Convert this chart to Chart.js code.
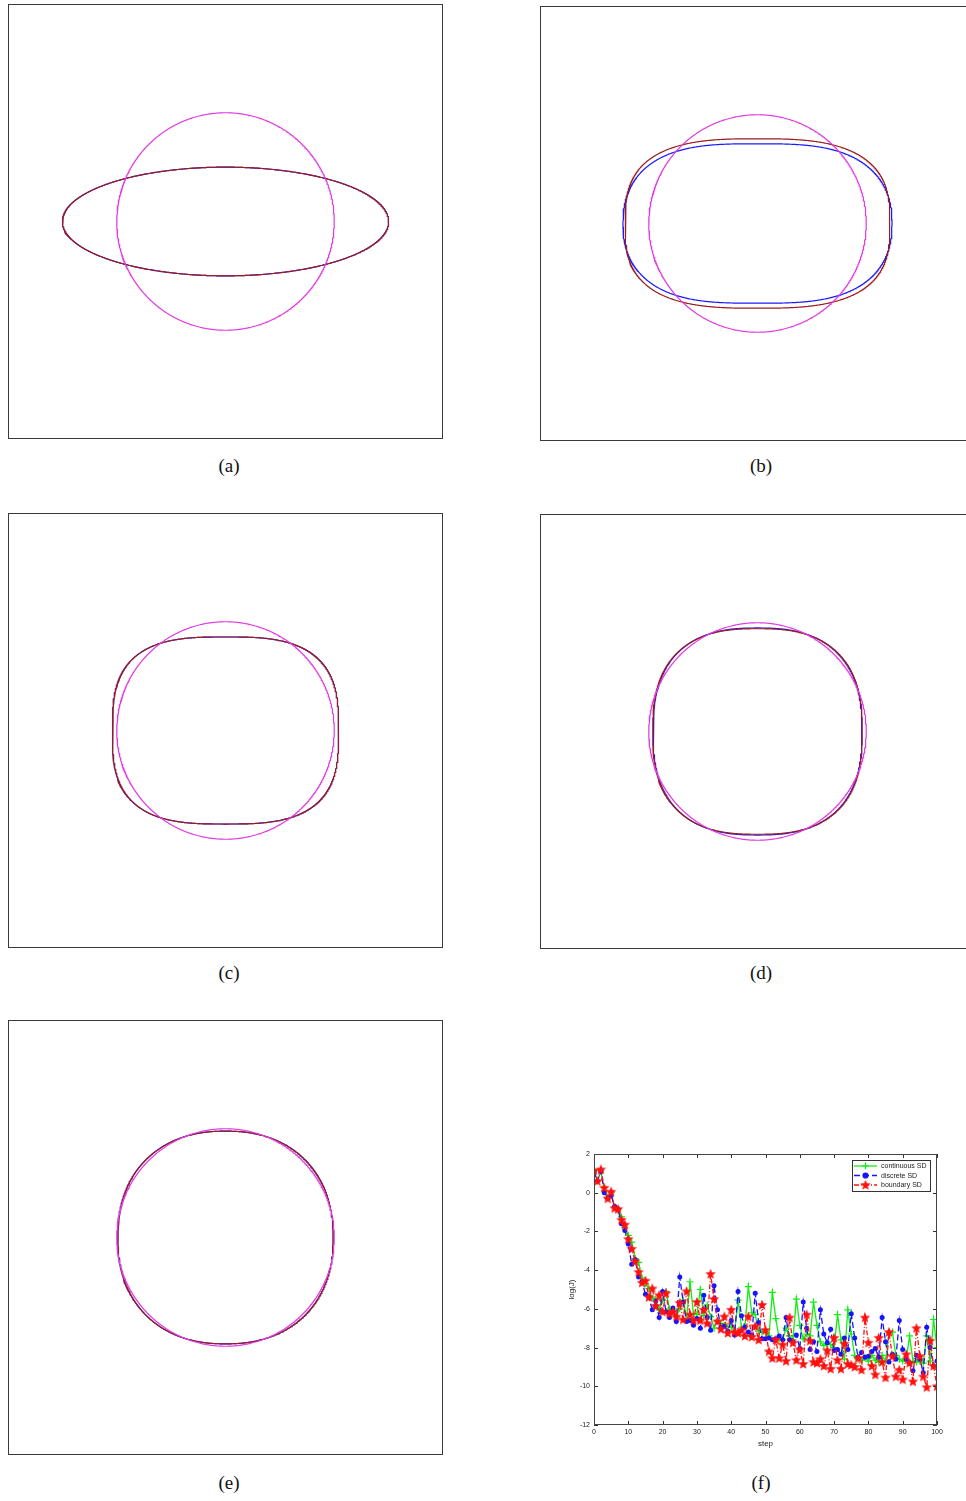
<!DOCTYPE html>
<html>
<head>
<meta charset="utf-8">
<script src="https://cdn.jsdelivr.net/npm/chart.js@4.4.0/dist/chart.umd.min.js"></script>
<style>
html, body { margin: 0; padding: 0; background: #fff; width: 966px; height: 1501px; overflow: hidden; }
canvas { position: absolute; }
.cap { position: absolute; font-family: "Liberation Serif", "DejaVu Serif", serif; font-size: 19px; color: #111; transform: translate(-50%, -50%); white-space: nowrap; }
</style>
</head>
<body>
<script>
// shape panels (a)-(e): circle target and two computed contours, in plot units
const panelNames = ['(a)', '(b)', '(c)', '(d)', '(e)'];
const circleR = [1, 1, 1, 1, 1];
const brownA = [1.5, 1.217, 1.04, 0.963, 0.99];
const brownB = [0.5, 0.779, 0.86, 0.945, 0.978];
const brownP = [2, 2.9, 3.0, 2.6, 2.25];
const brownQ = [2, 2.9, 3.0, 2.6, 2.25];
const blueA = [1.5, 1.237, 1.04, 0.96, 0.99];
const blueB = [0.5, 0.733, 0.86, 0.952, 0.978];
const blueP = [2, 3.1, 3.0, 2.55, 2.25];
const blueQ = [2, 2.3, 3.0, 2.55, 2.25];

// panel (f): log(J) against step
const steps = [];
for (let i = 0; i <= 100; i++) steps.push(i);
const continuousSD = [1.1, 0.6, 1.15, 0.1, -0.25, 0.0, -0.75, -0.9, -1.25, -1.8,
  -2.2, -2.55, -3.4, -3.6, -4.4, -4.7, -4.95, -5.45, -5.5, -6.05,
  -5.55, -5.1, -6.0, -6.05, -6.4, -6.0, -5.55, -6.5, -4.6, -6.25,
  -6.3, -5.0, -6.35, -5.8, -6.4, -7.0, -6.6, -6.75, -6.85, -6.9,
  -6.95, -7.2, -5.55, -6.95, -6.9, -4.85, -6.2, -6.3, -7.15, -7.2,
  -7.2, -7.4, -5.15, -6.5, -7.55, -7.6, -7.0, -7.4, -7.6, -5.5,
  -6.85, -7.55, -7.3, -7.4, -5.65, -6.85, -7.7, -7.9, -7.8, -7.85,
  -8.0, -6.3, -7.6, -8.6, -6.05, -7.3, -8.4, -8.6, -8.65, -8.5,
  -8.7, -8.4, -8.65, -8.75, -8.4, -8.7, -7.25, -7.2, -8.4, -8.6,
  -8.7, -8.65, -7.4, -8.7, -8.75, -8.7, -8.8, -7.4, -8.7, -6.55, -8.0];
const discreteSD = [1.1, 0.6, 1.1, 0.0, -0.3, -0.15, -0.7, -0.85, -1.6, -1.95,
  -2.65, -3.7, -3.45, -4.35, -4.6, -5.25, -5.4, -6.05, -5.6, -6.45,
  -5.1, -6.15, -6.45, -5.95, -6.65, -4.35, -5.65, -6.65, -6.6, -6.85,
  -6.5, -7.0, -5.3, -6.45, -7.1, -4.8, -6.05, -6.95, -6.9, -7.15,
  -6.6, -7.35, -5.1, -6.35, -6.95, -7.2, -7.35, -5.2, -6.7, -7.55,
  -7.55, -7.5, -7.6, -7.55, -7.4, -7.6, -6.45, -7.6, -7.7, -7.35,
  -8.05, -5.65, -7.0, -8.1, -7.7, -8.2, -6.05, -7.3, -7.75, -7.05,
  -8.15, -8.1, -8.35, -7.5, -8.1, -6.25, -7.5, -8.5, -8.25, -8.5,
  -8.45, -8.2, -8.05, -8.5, -6.45, -7.7, -8.75, -8.35, -8.6, -6.6,
  -8.1, -8.6, -8.8, -9.2, -8.4, -8.6, -9.3, -6.95, -8.0, -8.95, -8.7];
const boundarySD = [1.15, 0.6, 1.2, 0.25, -0.3, 0.05, -0.8, -0.85, -1.4, -1.65,
  -2.4, -2.9, -3.55, -4.1, -4.65, -4.55, -5.4, -4.95, -5.85, -5.3,
  -6.15, -5.2, -6.25, -6.15, -6.4, -5.7, -6.55, -5.1, -6.3, -6.6,
  -5.65, -6.6, -6.05, -6.75, -4.2, -5.5, -6.65, -7.05, -6.4, -7.25,
  -6.05, -7.2, -7.25, -7.1, -7.4, -6.4, -7.45, -6.9, -7.6, -5.8,
  -7.1, -8.2, -8.55, -7.6, -8.55, -7.85, -8.7, -6.45, -7.75, -8.65,
  -8.1, -8.85, -6.3, -7.65, -8.75, -8.8, -8.6, -8.95, -8.15, -9.1,
  -7.5, -8.65, -9.1, -7.8, -8.85, -8.9, -9.0, -8.55, -9.15, -6.45,
  -7.75, -8.95, -9.4, -7.5, -8.75, -9.55, -7.2, -8.45, -9.5, -9.15,
  -9.65, -8.35, -8.8, -9.75, -7.0, -8.45, -9.5, -10.05, -7.65, -8.95, -10.0];
const seriesNames = ['continuous SD', 'discrete SD', 'boundary SD'];

const sansFont = '"Liberation Sans", Arial, sans-serif';

function addCanvas(left, top, w, h) {
  const c = document.createElement('canvas');
  c.width = w;
  c.height = h;
  c.style.left = left + 'px';
  c.style.top = top + 'px';
  c.style.width = w + 'px';
  c.style.height = h + 'px';
  document.body.appendChild(c);
  return c;
}

function addCaption(text, x, y) {
  const d = document.createElement('div');
  d.className = 'cap';
  d.style.left = x + 'px';
  d.style.top = y + 'px';
  d.textContent = text;
  document.body.appendChild(d);
}

// superellipse outline |x/a|^p + |y/b|^q = 1
function contour(a, b, p, q) {
  const pts = [];
  for (let i = 0; i <= 720; i++) {
    const t = i * Math.PI / 360;
    const c = Math.cos(t), s = Math.sin(t);
    pts.push({
      x: a * Math.sign(c) * Math.pow(Math.abs(c), 2 / p),
      y: b * Math.sign(s) * Math.pow(Math.abs(s), 2 / q)
    });
  }
  return pts;
}

const framePlugin = {
  id: 'frame',
  afterDraw(chart) {
    const { ctx, chartArea: a } = chart;
    ctx.save();
    ctx.strokeStyle = '#3a3a3a';
    ctx.lineWidth = 1;
    ctx.strokeRect(Math.round(a.left) + 0.5, Math.round(a.top) + 0.5,
      Math.round(a.right - a.left) - 1, Math.round(a.bottom - a.top) - 1);
    ctx.restore();
  }
};

// canvas position of each square panel, and caption centre
const boxes = [[7, 3], [539, 5], [7, 512], [539, 513], [7, 1019]];
const captions = [[229, 466], [761, 466], [229, 973], [761, 973], [229, 1483]];

panelNames.forEach((name, i) => {
  const cv = addCanvas(boxes[i][0], boxes[i][1], 437, 437);
  new Chart(cv.getContext('2d'), {
    type: 'scatter',
    data: {
      datasets: [
        { data: contour(circleR[i], circleR[i], 2, 2), borderColor: '#e03ce0', order: 0 },
        { data: contour(brownA[i], brownB[i], brownP[i], brownQ[i]), borderColor: '#9b1c1c', order: 1 },
        { data: contour(blueA[i], blueB[i], blueP[i], blueQ[i]), borderColor: '#1a1aff', order: 2 }
      ]
    },
    options: {
      responsive: false,
      animation: false,
      showLine: true,
      elements: { point: { radius: 0 }, line: { borderWidth: 1.2, tension: 0 } },
      layout: { padding: 1 },
      plugins: { legend: { display: false }, tooltip: { enabled: false } },
      scales: {
        x: { type: 'linear', min: -2, max: 2, display: false },
        y: { type: 'linear', min: -2, max: 2, display: false }
      }
    },
    plugins: [framePlugin]
  });
  addCaption(name, captions[i][0], captions[i][1]);
});

// filled five point star marker
function starMarker(color) {
  const c = document.createElement('canvas');
  c.width = 12;
  c.height = 12;
  const g = c.getContext('2d');
  g.fillStyle = color;
  g.beginPath();
  for (let k = 0; k < 10; k++) {
    const r = k % 2 === 0 ? 5.5 : 2.4;
    const ang = -Math.PI / 2 + k * Math.PI / 5;
    const x = 6 + r * Math.cos(ang), y = 6.3 + r * Math.sin(ang);
    if (k === 0) g.moveTo(x, y); else g.lineTo(x, y);
  }
  g.closePath();
  g.fill();
  return c;
}
const redStar = starMarker('#ff1010');

const inTicks = {
  id: 'inTicks',
  afterDraw(chart) {
    const { ctx, chartArea: a, scales: { x, y } } = chart;
    ctx.save();
    ctx.strokeStyle = '#333';
    ctx.lineWidth = 1;
    ctx.beginPath();
    x.ticks.forEach(t => {
      const px = Math.round(x.getPixelForValue(t.value)) + 0.5;
      ctx.moveTo(px, a.bottom); ctx.lineTo(px, a.bottom - 4);
      ctx.moveTo(px, a.top); ctx.lineTo(px, a.top + 4);
    });
    y.ticks.forEach(t => {
      const py = Math.round(y.getPixelForValue(t.value)) + 0.5;
      ctx.moveTo(a.left, py); ctx.lineTo(a.left + 4, py);
      ctx.moveTo(a.right, py); ctx.lineTo(a.right - 4, py);
    });
    ctx.stroke();
    ctx.strokeStyle = '#444';
    ctx.strokeRect(Math.round(a.left) + 0.5, Math.round(a.top) + 0.5,
      Math.round(a.right - a.left) - 1, Math.round(a.bottom - a.top) - 1);
    ctx.restore();
  }
};

const boxLegend = {
  id: 'boxLegend',
  afterDraw(chart) {
    const { ctx, chartArea: a } = chart;
    const w = 78, h = 31;
    const bx = Math.round(a.right - 7 - w), by = Math.round(a.top + 6);
    ctx.save();
    ctx.fillStyle = '#fff';
    ctx.fillRect(bx, by, w, h);
    ctx.strokeStyle = '#333';
    ctx.lineWidth = 1;
    ctx.strokeRect(bx + 0.5, by + 0.5, w, h);
    chart.data.datasets.forEach((ds, i) => {
      const yy = by + 6 + i * 9.5;
      ctx.strokeStyle = ds.borderColor;
      ctx.fillStyle = ds.backgroundColor;
      ctx.lineWidth = 1.3;
      ctx.setLineDash(ds.borderDash || []);
      ctx.beginPath();
      ctx.moveTo(bx + 2, yy);
      ctx.lineTo(bx + 25, yy);
      ctx.stroke();
      ctx.setLineDash([]);
      ctx.lineWidth = 1.2;
      Chart.helpers.drawPoint(ctx, {
        pointStyle: ds.pointStyle, radius: ds.pointRadius, borderWidth: 1.2,
        rotation: 0
      }, bx + 13.5, yy);
      ctx.fillStyle = '#222';
      ctx.font = '7px ' + sansFont;
      ctx.textBaseline = 'middle';
      ctx.fillText(ds.label, bx + 29, yy + 0.5);
    });
    ctx.restore();
  }
};

function pts(arr) {
  return steps.map((s, i) => ({ x: s, y: arr[i] }));
}

const fc = addCanvas(540, 1144, 420, 316);
new Chart(fc.getContext('2d'), {
  type: 'line',
  data: {
    datasets: [
      {
        label: seriesNames[0], data: pts(continuousSD), borderColor: '#11ee11', backgroundColor: '#11ee11',
        borderWidth: 1.3, pointStyle: 'cross', pointRadius: 3.5, pointBorderWidth: 1.2, order: 2
      },
      {
        label: seriesNames[1], data: pts(discreteSD), borderColor: '#1414ff', backgroundColor: '#1414ff',
        borderWidth: 1.3, borderDash: [6, 3], pointStyle: 'circle', pointRadius: 2.5, pointBorderWidth: 0, order: 1
      },
      {
        label: seriesNames[2], data: pts(boundarySD), borderColor: '#ff1010', backgroundColor: '#ff1010',
        borderWidth: 1.3, borderDash: [5, 2, 1, 2], pointStyle: redStar, pointRadius: 5, order: 0
      }
    ]
  },
  options: {
    responsive: false,
    animation: false,
    layout: { padding: { left: 10, right: 23, top: 10, bottom: 5 } },
    elements: { line: { tension: 0 } },
    plugins: { legend: { display: false }, tooltip: { enabled: false } },
    scales: {
      x: {
        type: 'linear', min: 0, max: 100,
        ticks: { stepSize: 10, color: '#222', padding: 3, maxRotation: 0, font: { size: 7, family: sansFont } },
        grid: { display: false, drawTicks: false },
        border: { display: false },
        title: { display: true, text: 'step', color: '#222', font: { size: 8, family: sansFont }, padding: { top: 0, bottom: 6 } },
        afterFit(s) { s.height = 30; }
      },
      y: {
        type: 'linear', min: -12, max: 2,
        ticks: { stepSize: 2, color: '#222', padding: 4, font: { size: 7, family: sansFont } },
        grid: { display: false, drawTicks: false },
        border: { display: false },
        title: { display: true, text: 'log(J)', color: '#222', font: { size: 8, family: sansFont }, padding: { top: 17, bottom: 0 } },
        afterFit(s) { s.width = 44; }
      }
    }
  },
  plugins: [inTicks, boxLegend]
});
addCaption('(f)', 761, 1483);
</script>
</body>
</html>
